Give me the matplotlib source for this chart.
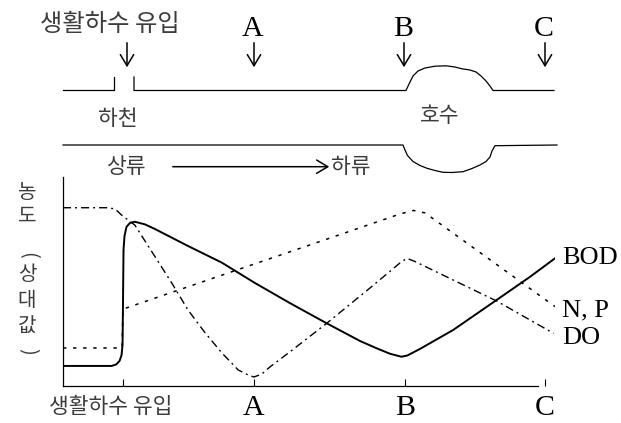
import matplotlib.pyplot as plt

plt.rcParams['font.family'] = ['Noto Sans CJK KR', 'DejaVu Sans']

# 그래프 데이터: x = 상대 거리(0~100), y = 농도 상대값(0~100)
site_x = [12.2, 38.8, 69.5, 98.0]
site_labels = ['생활하수 유입', 'A', 'B', 'C']

bod_x = [0, 9.9, 10.8, 11.5, 11.9, 12.1, 12.2, 12.3, 12.5, 12.9, 13.6, 14.6, 16.7, 18.7,
         25.4, 32.3, 39.0, 46.1, 53.6, 60.4, 63.8, 66.5, 68.8, 70.0, 72.6, 79.3, 88.1, 94.9, 100]
bod_y = [9.6, 9.6, 10.3, 12.0, 14.8, 19.6, 41.1, 65.1, 71.8, 76.1, 78.0, 78.6, 77.3, 75.1,
         67.0, 59.0, 49.3, 39.7, 30.0, 21.5, 18.0, 15.4, 14.0, 14.6, 17.8, 26.8, 41.1, 52.2, 61.1]

np_x = [0, 12.0, 12.2, 68.5, 71.2, 73.6, 100]
np_y = [18.2, 18.2, 36.8, 82.3, 84.0, 82.8, 38.0]

do_x = [0, 9.1, 10.6, 11.9, 14.6, 18.7, 22.1, 25.4, 28.9, 32.3, 35.6, 37.6, 38.8, 40.4,
        42.1, 46.1, 53.6, 62.4, 68.5, 69.9, 71.5, 88.1, 99.7]
do_y = [85.3, 85.3, 84.7, 81.8, 77.0, 61.9, 49.3, 36.4, 25.4, 15.8, 7.7, 5.3, 4.3, 5.7,
        9.2, 16.3, 30.0, 46.9, 58.9, 61.1, 59.6, 40.7, 25.2]

series_names = ['BOD', 'N, P', 'DO']

# 위쪽 하천 모식도 (픽셀 좌표)
river_top_left = [(63, 90.5), (114, 90.5), (114, 77)]
river_top_right = [(134, 77), (134, 90.5), (406, 90.5), (409, 84), (413, 76), (418, 71),
                   (425, 68), (435, 66.2), (446, 65.8), (455, 67), (462, 68.8), (470, 70),
                   (476, 72), (481, 76), (486, 81), (490, 86), (493, 90.5), (554, 90.5)]
river_bottom = [(63, 145), (403, 145), (405, 150), (407.5, 155.5), (413, 161.5), (420, 165.5),
                (427, 168.3), (435, 170.5), (443, 172.3), (452, 172.5), (463, 171.7),
                (472, 168.5), (480, 165), (486, 161.5), (490, 157), (492, 151), (495, 145.7),
                (557, 145)]
arrow_x = [127, 254, 404, 545]

fig = plt.figure(figsize=(6.21, 4.23), dpi=100)
bg = fig.add_axes([0, 0, 1, 1])
bg.set_xlim(0, 621)
bg.set_ylim(423, 0)
bg.axis('off')

for seg in [river_top_left, river_top_right, river_bottom]:
    bg.plot([p[0] for p in seg], [p[1] for p in seg], color='black', lw=0.9)

gray = '#3c3c3c'
serif = 'Liberation Serif'
kw = dict(color=gray, fontweight='light')

bg.text(110, 24, '생활하수 유입', fontsize=17.5, ha='center', va='center', **kw)
for x, lab in zip(arrow_x[1:], site_labels[1:]):
    bg.text(x - 1, 36, lab, fontsize=21.5, family=serif, ha='center', va='baseline')
for x in arrow_x:
    bg.annotate('', xy=(x, 70), xytext=(x, 40),
                arrowprops=dict(arrowstyle='->,head_length=0.5,head_width=0.3',
                                lw=1.1, color='black', mutation_scale=16))

bg.text(118, 119, '하천', fontsize=15.5, ha='center', va='center', **kw)
bg.text(440, 116, '호수', fontsize=15.5, ha='center', va='center', **kw)
bg.text(127, 167, '상류', fontsize=15.5, ha='center', va='center', **kw)
bg.text(331, 167, '하류', fontsize=15.5, ha='left', va='center', **kw)
bg.annotate('', xy=(332, 166.7), xytext=(170, 166.7),
            arrowprops=dict(arrowstyle='->,head_length=0.5,head_width=0.3',
                            lw=1.1, color='black', mutation_scale=16))

# 세로 축 제목
ylab_chars = ['농', '도', '(', '상', '대', '값', ')']
ylab_pos = [192, 216, 255, 275, 300, 327, 351]
for ch, y in zip(ylab_chars, ylab_pos):
    rot = -90 if ch in '()' else 0
    bg.text(27, y, ch, fontsize=14.5, ha='center', va='center', rotation=rot, **kw)

# 농도 그래프
ax = fig.add_axes([63 / 621, 37 / 423, 492 / 621, 209 / 423])
ax.set_facecolor('none')
ax.plot(bod_x, bod_y, color='black', lw=1.4, solid_joinstyle='round')
ax.plot(np_x, np_y, color='black', lw=1.1, linestyle=(0, (2.2, 4.4)))
ax.plot(do_x, do_y, color='black', lw=1.0, linestyle=(0, (5.8, 2.9, 1.4, 2.9)))
ax.set_xlim(0, 100)
ax.set_ylim(0, 100)

for s in ['top', 'right']:
    ax.spines[s].set_visible(False)
ax.spines['bottom'].set_bounds(0, 96.5)
ax.spines['left'].set_linewidth(0.9)
ax.spines['bottom'].set_linewidth(0.9)
ax.set_yticks([])
ax.set_xticks(site_x)
ax.set_xticklabels([])
ax.tick_params(axis='x', direction='in', length=5, width=0.8)

for i, (x, lab) in enumerate(zip(site_x, site_labels)):
    if i == 0:
        ax.annotate(lab, xy=(x, 0), xycoords=('data', 'axes fraction'),
                    xytext=(-12, -21), textcoords='offset pixels',
                    fontsize=15.5, ha='center', va='center', **kw)
    else:
        ax.annotate(lab, xy=(x, 0), xycoords=('data', 'axes fraction'),
                    xytext=(0, -29), textcoords='offset pixels',
                    fontsize=21.5, family=serif, ha='center', va='baseline',
                    bbox=dict(fc='white', ec='none', pad=3), zorder=5)

# 오른쪽 계열 이름
ends = [bod_y[-1], np_y[-1], do_y[-1]]
offsets = [0, -4, -5]
for name, yv, dy in zip(series_names, ends, offsets):
    ax.annotate(name, xy=(100, yv), xytext=(7, dy), textcoords='offset pixels',
                fontsize=19, family=serif, ha='left', va='center', annotation_clip=False)

fig.savefig('out.png', dpi=100)
